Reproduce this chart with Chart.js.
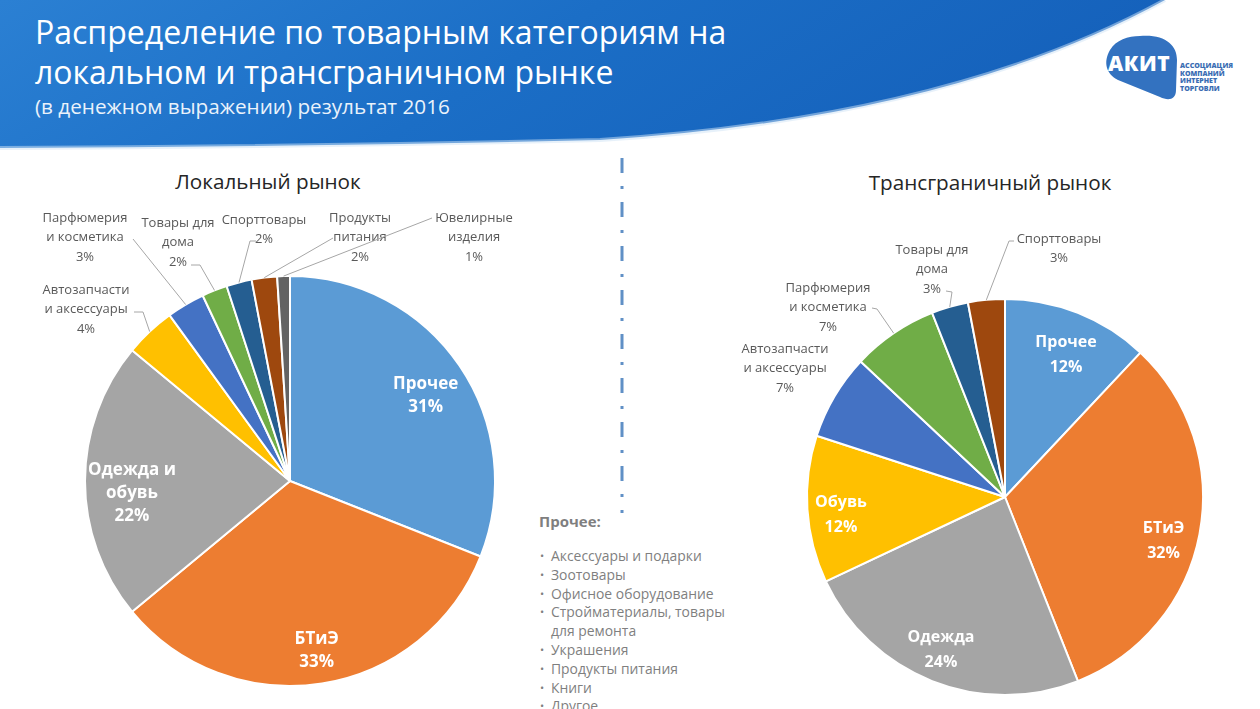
<!DOCTYPE html>
<html lang="ru">
<head>
<meta charset="utf-8">
<script src="https://cdn.jsdelivr.net/npm/chart.js@4.4.1/dist/chart.umd.min.js"></script>
<style>
  html, body { margin: 0; padding: 0; }
  body { width: 1260px; height: 709px; overflow: hidden; position: relative; background: #fff; font-family: "Open Sans", sans-serif; }
  .abs { position: absolute; }
  #header { left: 0; top: 0; }
  #title { left: 35px; top: 12px; color: #fff; font-size: 32px; line-height: 40px; white-space: nowrap; }
  #subtitle { left: 35px; top: 92px; color: #eaf2fb; font-size: 20.7px; line-height: 28px; white-space: nowrap; }
  .chartTitle { color: #262626; font-size: 20.7px; white-space: nowrap; transform: translateX(-50%); }
  canvas { position: absolute; left: 0; top: 0; }
  #otherBox { left: 539px; top: 509px; color: #7f7f7f; }
  #otherBox h4 { margin: 0 0 14px 0; font-size: 15px; line-height: 24px; font-weight: 700; }
  #otherBox ul { margin: 0; padding: 0 0 0 12px; font-size: 13.9px; line-height: 18.8px; }
  #otherBox li { list-style: none; position: relative; }
  #otherBox li::before { content: "•"; position: absolute; left: -11px; font-size: 11px; }
  #logoText { left: 1108px; top: 49px; color: #fff; font-weight: 800; font-size: 21px; line-height: 28px; letter-spacing: 0.5px; }
  #logoSide { left: 1180px; top: 62px; color: #3a6db3; font-weight: 800; font-size: 7px; line-height: 7.5px; }
</style>
</head>
<body>

<svg id="header" class="abs" width="1260" height="170">
  <defs>
    <linearGradient id="hg" x1="0" y1="0" x2="1" y2="0.2">
      <stop offset="0" stop-color="#2b80d3"/>
      <stop offset="0.5" stop-color="#1b6ec6"/>
      <stop offset="1" stop-color="#1561bb"/>
    </linearGradient>
  </defs>
  <path d="M0,0 H1165 Q950,118 600,140 Q300,147 0,148 Z" fill="url(#hg)"/>
  <path d="M1165,0 Q950,118 600,140 Q300,147 0,148" fill="none" stroke="#cfe3f6" stroke-width="4" opacity="0.5"/>
  <path d="M1140,36 C1165,34 1177,45 1177,60 L1176,90 C1176,100 1168,101 1160,97 L1118,80 C1106,74 1103,62 1110,50 C1116,40 1128,36 1140,36 Z" fill="#3372c0"/>
</svg>

<div id="title" class="abs">Распределение по товарным категориям на<br>локальном и трансграничном рынке</div>
<div id="subtitle" class="abs">(в денежном выражении) результат 2016</div>
<div id="logoText" class="abs">АКИТ</div>
<div id="logoSide" class="abs">АССОЦИАЦИЯ<br>КОМПАНИЙ<br>ИНТЕРНЕТ<br>ТОРГОВЛИ</div>

<div class="abs chartTitle" style="left:268px; top:167px;">Локальный рынок</div>
<div class="abs chartTitle" style="left:990px; top:168px;">Трансграничный рынок</div>

<svg class="abs" style="left:615px; top:0;" width="14" height="530">
  <line x1="7" y1="158" x2="7" y2="513" stroke="#6090c6" stroke-width="3" stroke-dasharray="15 13 3 13"/>
</svg>

<div id="otherBox" class="abs">
  <h4>Прочее:</h4>
  <ul>
    <li>Аксессуары и подарки</li>
    <li>Зоотовары</li>
    <li>Офисное оборудование</li>
    <li>Стройматериалы, товары<br>для ремонта</li>
    <li>Украшения</li>
    <li>Продукты питания</li>
    <li>Книги</li>
    <li>Другое</li>
  </ul>
</div>

<canvas id="localChart" width="1260" height="709"></canvas>
<canvas id="crossChart" width="1260" height="709"></canvas>

<script>
// ---- данные: локальный рынок ----
const localLabels = [
  'Прочее', 'БТиЭ', ['Одежда и', 'обувь'], ['Автозапчасти', 'и аксессуары'],
  ['Парфюмерия', 'и косметика'], ['Товары для', 'дома'], 'Спорттовары',
  ['Продукты', 'питания'], ['Ювелирные', 'изделия']
];
const localValues = [31, 33, 22, 4, 3, 2, 2, 2, 1];

// ---- данные: трансграничный рынок ----
const crossLabels = [
  'Прочее', 'БТиЭ', 'Одежда', 'Обувь', ['Автозапчасти', 'и аксессуары'],
  ['Парфюмерия', 'и косметика'], ['Товары для', 'дома'], 'Спорттовары'
];
const crossValues = [12, 32, 24, 12, 7, 7, 3, 3];

// ---- цвета секторов ----
const localColors = ['#5B9BD5', '#ED7D31', '#A5A5A5', '#FFC000', '#4472C4', '#70AD47', '#255E91', '#9E480E', '#636363'];
const crossColors = ['#5B9BD5', '#ED7D31', '#A5A5A5', '#FFC000', '#4472C4', '#70AD47', '#255E91', '#9E480E'];

// ---- расположение внешних подписей (x центра, y первой строки, точки выноски) ----
const localOutside = {
  3: { x: 86, y: 290, leader: [[134, 312], [143, 312]] },
  4: { x: 85, y: 218, leader: [[133, 239]] },
  5: { x: 178, y: 223, leader: [[191, 265], [200, 265]] },
  6: { x: 264, y: 220, leader: [[256, 241], [250, 241]] },
  7: { x: 360, y: 218, leader: [[333, 238]] },
  8: { x: 474, y: 218, leader: [[432, 218]] }
};
const crossOutside = {
  4: { x: 785, y: 349, leader: null },
  5: { x: 828, y: 288, leader: [[872, 308], [877, 309]] },
  6: { x: 932, y: 250, leader: [[946, 291], [952, 292]] },
  7: { x: 1059, y: 239, leader: [[1014, 241], [1009, 241]] }
};
// сдвиг внутренних подписей относительно точки на биссектрисе сектора
const localInsideShift = { 0: [0, 7], 1: [1, 8], 2: [6, 12] };
const crossInsideShift = { 0: [2, 7], 1: [1, 14], 2: [-5, 4], 3: [-4, 8] };

// ------------------------------------------------
// Плагин подписей секторов
// ------------------------------------------------
const sliceLabels = {
  id: 'sliceLabels',
  afterDatasetsDraw(chart, args, opts) {
    const ctx = chart.ctx;
    const meta = chart.getDatasetMeta(0);
    const values = chart.data.datasets[0].data;
    ctx.save();
    ctx.textAlign = 'center';
    ctx.textBaseline = 'middle';
    meta.data.forEach((arc, i) => {
      const p = arc.getProps(['x', 'y', 'startAngle', 'endAngle', 'outerRadius'], true);
      const mid = (p.startAngle + p.endAngle) / 2;
      const lines = [].concat(chart.data.labels[i], `${values[i]}%`);
      const out = opts.outside[i];
      if (!out) {
        const r = p.outerRadius * opts.inR;
        const sh = opts.shift[i] || [0, 0];
        const cx = p.x + Math.cos(mid) * r + sh[0];
        const cy = p.y + Math.sin(mid) * r + sh[1];
        ctx.font = `bold ${opts.inSize}px "Open Sans"`;
        ctx.fillStyle = '#fff';
        const y0 = cy - (lines.length - 1) * opts.inLH / 2;
        lines.forEach((t, k) => ctx.fillText(t, cx, y0 + k * opts.inLH));
      } else {
        if (out.leader) {
          const ex = p.x + Math.cos(mid) * p.outerRadius;
          const ey = p.y + Math.sin(mid) * p.outerRadius;
          ctx.strokeStyle = '#a6a6a6';
          ctx.lineWidth = 1;
          ctx.beginPath();
          ctx.moveTo(out.leader[0][0], out.leader[0][1]);
          out.leader.slice(1).forEach(pt => ctx.lineTo(pt[0], pt[1]));
          ctx.lineTo(ex, ey);
          ctx.stroke();
        }
        ctx.font = `${opts.outSize}px "Open Sans"`;
        ctx.fillStyle = '#595959';
        lines.forEach((t, k) => ctx.fillText(t, out.x, out.y + k * opts.outLH));
      }
    });
    ctx.restore();
  }
};

function makePie(id, labels, values, colors, padding, labelOpts) {
  return new Chart(document.getElementById(id).getContext('2d'), {
    type: 'pie',
    data: {
      labels: labels,
      datasets: [{
        data: values,
        backgroundColor: colors,
        borderColor: '#ffffff',
        borderWidth: 2
      }]
    },
    options: {
      responsive: false,
      animation: false,
      devicePixelRatio: 1,
      events: [],
      layout: { padding: padding },
      plugins: {
        legend: { display: false },
        tooltip: { enabled: false },
        sliceLabels: labelOpts
      }
    },
    plugins: [sliceLabels]
  });
}

makePie('localChart', localLabels, localValues, localColors,
  { left: 84, right: 764, top: 275, bottom: 22 },
  { outside: localOutside, shift: localInsideShift, inR: 0.8, inSize: 17, inLH: 23, outSize: 13, outLH: 19.5 });

makePie('crossChart', crossLabels, crossValues, crossColors,
  { left: 806, right: 56, top: 298, bottom: 13 },
  { outside: crossOutside, shift: crossInsideShift, inR: 0.81, inSize: 16, inLH: 25, outSize: 13, outLH: 19.5 });
</script>
</body>
</html>
